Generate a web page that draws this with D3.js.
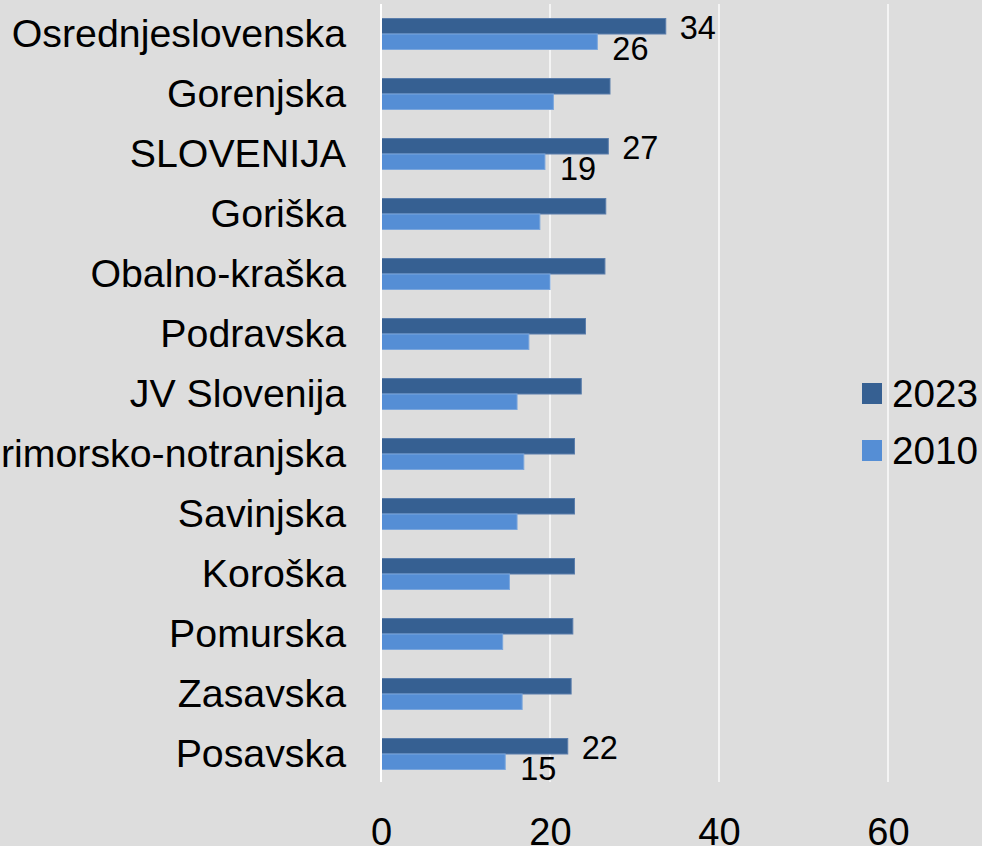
<!DOCTYPE html>
<html>
<head>
<meta charset="utf-8">
<script src="https://cdn.jsdelivr.net/npm/d3@7"></script>
<style>
  body { margin: 0; background: #dddddd; }
  svg { display: block; font-family: "Liberation Sans", Arial, sans-serif; }
</style>
</head>
<body>
<div id="chart"></div>
<script>
// regions, top to bottom
const regions = ["Osrednjeslovenska", "Gorenjska", "SLOVENIJA", "Goriška", "Obalno-kraška", "Podravska",
  "JV Slovenija", "Primorsko-notranjska", "Savinjska", "Koroška", "Pomurska", "Zasavska", "Posavska"]
const values2023 = [33.7, 27.1, 26.9, 26.6, 26.5, 24.2, 23.7, 22.9, 22.9, 22.9, 22.7, 22.5, 22.1]
const values2010 = [25.6, 20.4, 19.4, 18.8, 20.0, 17.5, 16.1, 16.9, 16.1, 15.2, 14.4, 16.7, 14.7]
const labelled = ["Osrednjeslovenska", "SLOVENIJA", "Posavska"]
const xTicks = [0, 20, 40, 60]
const seriesNames = ["2023", "2010"]
const colors = {"2023": "#366092", "2010": "#558ed5"}
const strokes = {"2023": "#5a7dab", "2010": "#7ba6dc"}

const W = 982, H = 846
const plotTop = 4, plotBottom = 784

var svg = d3.select("#chart").append("svg")
  .attr("width", W)
  .attr("height", H)

svg.append("rect").attr("width", W).attr("height", H).attr("fill", "#dddddd")

var x = d3.scaleLinear().domain([0, 60]).range([381, 888])
var y = d3.scaleBand().domain(regions).range([plotTop, plotBottom]).padding(0)
const barH = 15.5

// gridlines
svg.append("g").selectAll("line")
  .data(xTicks)
  .enter().append("line")
  .attr("x1", d => x(d)).attr("x2", d => x(d))
  .attr("y1", plotTop).attr("y2", plotBottom - 2)
  .attr("stroke", "#f4f4f4")
  .attr("stroke-width", 2)

// x axis labels
var xAxis = d3.axisBottom(x).tickValues(xTicks).tickSize(0).tickPadding(0)
var gX = svg.append("g")
  .attr("transform", "translate(0," + 845 + ")")
  .call(xAxis)
gX.select(".domain").remove()
gX.selectAll("text")
  .attr("dy", 0)
  .attr("font-size", 38)
  .attr("fill", "#000")
  .attr("font-family", "Liberation Sans, Arial, sans-serif")

// category labels
var yAxis = d3.axisLeft(y).tickSize(0).tickPadding(0)
var gY = svg.append("g")
  .attr("transform", "translate(346,0)")
  .call(yAxis)
gY.select(".domain").remove()
gY.selectAll("text")
  .attr("font-size", 39.3)
  .attr("fill", "#000")
  .attr("font-family", "Liberation Sans, Arial, sans-serif")

var rows = regions.map(function(r, i) {
  return {region: r, v2023: values2023[i], v2010: values2010[i]}
})

// bars 2023 (upper half)
svg.append("g").selectAll("rect")
  .data(rows)
  .enter().append("rect")
  .attr("x", x(0))
  .attr("y", d => y(d.region) + y.bandwidth() / 2 - barH)
  .attr("width", d => x(d.v2023) - x(0))
  .attr("height", barH)
  .attr("fill", colors["2023"])
  .attr("stroke", strokes["2023"])
  .attr("stroke-width", 1)

// bars 2010 (lower half)
svg.append("g").selectAll("rect")
  .data(rows)
  .enter().append("rect")
  .attr("x", x(0))
  .attr("y", d => y(d.region) + y.bandwidth() / 2)
  .attr("width", d => x(d.v2010) - x(0))
  .attr("height", barH)
  .attr("fill", colors["2010"])
  .attr("stroke", strokes["2010"])
  .attr("stroke-width", 1)

// zero line
svg.append("line")
  .attr("x1", x(0)).attr("x2", x(0))
  .attr("y1", plotTop).attr("y2", plotBottom - 2)
  .attr("stroke", "#ffffff")
  .attr("stroke-width", 2)

// data labels
var lab = rows.filter(d => labelled.indexOf(d.region) >= 0)
var gl = svg.append("g").attr("font-size", 32.5).attr("fill", "#000")
gl.selectAll("text.l23")
  .data(lab)
  .enter().append("text")
  .attr("class", "l23")
  .attr("x", d => x(d.v2023) + 14)
  .attr("y", d => y(d.region) + y.bandwidth() / 2 - barH / 2 + 1)
  .attr("dy", "0.36em")
  .text(d => d3.format(".0f")(d.v2023))
gl.selectAll("text.l10")
  .data(lab)
  .enter().append("text")
  .attr("class", "l10")
  .attr("x", d => x(d.v2010) + 15)
  .attr("y", d => y(d.region) + y.bandwidth() / 2 + barH / 2 + 7)
  .attr("dy", "0.36em")
  .text(d => d3.format(".0f")(d.v2010))

// legend
var lg = svg.append("g").selectAll("g")
  .data(seriesNames)
  .enter().append("g")
  .attr("transform", (d, i) => "translate(862," + (383 + i * 57) + ")")
lg.append("rect")
  .attr("width", 20).attr("height", 21)
  .attr("fill", d => colors[d])
lg.append("text")
  .attr("x", 30)
  .attr("y", 10.5)
  .attr("dy", "0.36em")
  .attr("font-size", 38.7)
  .attr("fill", "#000")
  .text(d => d)
</script>
</body>
</html>
